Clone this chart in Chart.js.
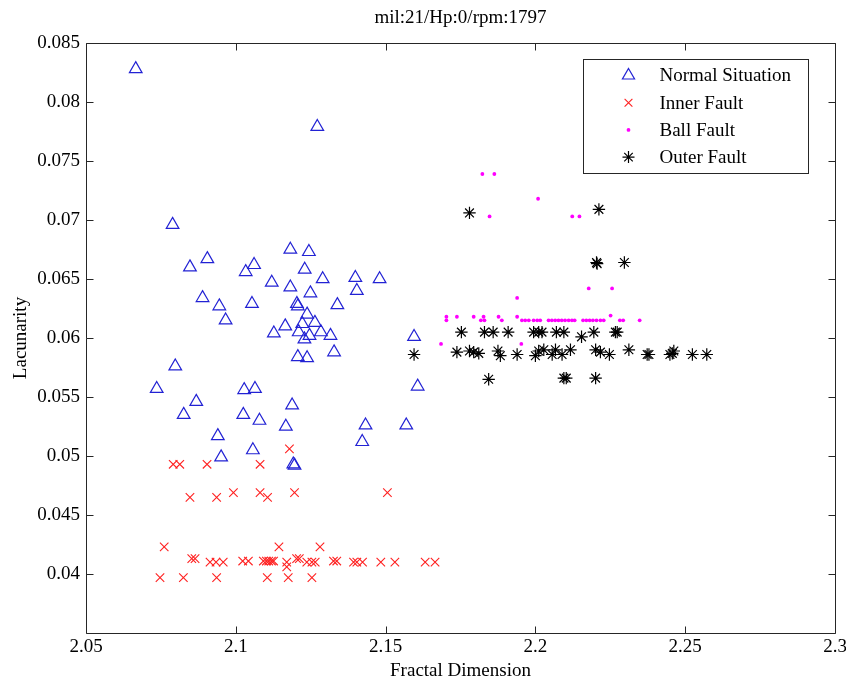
<!DOCTYPE html>
<html>
<head>
<meta charset="utf-8">
<script src="https://cdn.jsdelivr.net/npm/chart.js@4/dist/chart.umd.min.js"></script>
<style>
  html, body { margin: 0; padding: 0; background: #ffffff; }
  #wrap { width: 846px; height: 682px; }
</style>
</head>
<body>
<div id="wrap"><canvas id="c" width="846" height="682"></canvas></div>
<script>
// ---------------- data ----------------
const chartTitle = 'mil:21/Hp:0/rpm:1797';
const xAxisTitle = 'Fractal Dimension';
const yAxisTitle = 'Lacunarity';
const seriesNames = ['Normal Situation', 'Inner Fault', 'Ball Fault', 'Outer Fault'];

const xTickValues = [2.05, 2.1, 2.15, 2.2, 2.25, 2.3];
const xTickLabels = ['2.05', '2.1', '2.15', '2.2', '2.25', '2.3'];
const yTickValues = [0.04, 0.045, 0.05, 0.055, 0.06, 0.065, 0.07, 0.075, 0.08, 0.085];
const yTickLabels = ['0.04', '0.045', '0.05', '0.055', '0.06', '0.065', '0.07', '0.075', '0.08', '0.085'];
const xRange = [2.05, 2.3];
const yRange = [0.035, 0.085];

// Normal Situation
const normalFD = [2.0666, 2.1272, 2.0789, 2.0847, 2.0905, 2.0889, 2.0945, 2.0966, 2.1033, 2.1061,
  2.1054, 2.1120, 2.1182, 2.1244, 2.1230, 2.1290, 2.1182, 2.1249, 2.1204, 2.1207,
  2.1339, 2.1238, 2.1222, 2.1264, 2.1127, 2.1165, 2.1210, 2.1246, 2.1284, 2.1316,
  2.1229, 2.1207, 2.1238, 2.1328, 2.0798, 2.0736, 2.0868, 2.0826, 2.1028, 2.1064,
  2.1025, 2.1079, 2.1188, 2.1167, 2.0940, 2.0951, 2.1057, 2.1192, 2.1196, 2.1399,
  2.1480, 2.1404, 2.1595, 2.1607, 2.1433, 2.1569, 2.1422];
const normalLac = [0.0828, 0.0779, 0.0696, 0.0660, 0.0667, 0.0634, 0.0627, 0.0615, 0.0656, 0.0662,
  0.0629, 0.0647, 0.0675, 0.0673, 0.0658, 0.0650, 0.0643, 0.0638, 0.0629, 0.0627,
  0.0628, 0.0620, 0.0612, 0.0613, 0.0604, 0.0610, 0.0605, 0.0602, 0.0605, 0.0602,
  0.0599, 0.0584, 0.0583, 0.0588, 0.0576, 0.0557, 0.0546, 0.0535, 0.0556, 0.0557,
  0.0535, 0.0530, 0.0543, 0.0525, 0.0517, 0.0499, 0.0505, 0.0493, 0.0492, 0.0651,
  0.0650, 0.0640, 0.0601, 0.0559, 0.0526, 0.0526, 0.0512];

// Inner Fault
const innerFD = [2.1179,
  2.0791, 2.0813, 2.0904, 2.1081,
  2.0992, 2.1081, 2.1196, 2.1506,
  2.0847, 2.0936, 2.1106,
  2.0761, 2.1144, 2.1281,
  2.0853, 2.0864, 2.1203, 2.1212,
  2.0914, 2.0934, 2.0958, 2.1023, 2.1042, 2.1092, 2.1102, 2.1110, 2.1119, 2.1126,
  2.1170, 2.1237, 2.1254, 2.1265, 2.1326, 2.1337, 2.1393, 2.1404, 2.1423, 2.1484,
  2.1531, 2.1632, 2.1665,
  2.0747, 2.0825, 2.0936, 2.1105, 2.1175, 2.1254,
  2.1170];
const innerLac = [0.0506,
  0.0493, 0.0493, 0.0493, 0.0493,
  0.0469, 0.0469, 0.0469, 0.0469,
  0.0465, 0.0465, 0.0465,
  0.0423, 0.0423, 0.0423,
  0.0413, 0.0413, 0.0413, 0.0413,
  0.0410, 0.0410, 0.0410, 0.0411, 0.0411, 0.0411, 0.0411, 0.0411, 0.0411, 0.0411,
  0.0410, 0.0410, 0.0410, 0.0410, 0.0411, 0.0411, 0.0410, 0.0410, 0.0410, 0.0410,
  0.0410, 0.0410, 0.0410,
  0.0397, 0.0397, 0.0397, 0.0397, 0.0397, 0.0397,
  0.0406];

// Ball Fault
const ballFD = [2.1823, 2.1863, 2.2009, 2.1847, 2.2123, 2.2147, 2.2178, 2.2256, 2.1939,
  2.1703, 2.1703, 2.1738, 2.1794, 2.1818, 2.1827, 2.1830, 2.1877, 2.1888, 2.1939,
  2.1955, 2.1966, 2.1978, 2.1994, 2.2006, 2.2016, 2.2044, 2.2055, 2.2066, 2.2077,
  2.2088, 2.2099, 2.2111, 2.2122, 2.2131, 2.2159, 2.2170, 2.2181, 2.2192, 2.2204,
  2.2217, 2.2228, 2.2251, 2.2282, 2.2293, 2.2348,
  2.1685, 2.1953];
const ballLac = [0.0739, 0.0739, 0.0718, 0.0703, 0.0703, 0.0703, 0.0642, 0.0642, 0.0634,
  0.0618, 0.0615, 0.0618, 0.0618, 0.0615, 0.0618, 0.0615, 0.0618, 0.0615, 0.0618,
  0.0615, 0.0615, 0.0615, 0.0615, 0.0615, 0.0615, 0.0615, 0.0615, 0.0615, 0.0615,
  0.0615, 0.0615, 0.0615, 0.0615, 0.0615, 0.0615, 0.0615, 0.0615, 0.0615, 0.0615,
  0.0615, 0.0615, 0.0619, 0.0615, 0.0615, 0.0615,
  0.0595, 0.0595];

// Outer Fault
const outerFD = [2.1780, 2.2212, 2.2204, 2.2206, 2.2297,
  2.1753, 2.1830, 2.1859, 2.1909, 2.1994, 2.2011, 2.2022, 2.2070, 2.2095, 2.2154,
  2.2195, 2.2267, 2.2273,
  2.1738, 2.1780, 2.1794, 2.1811, 2.1875, 2.1883, 2.1939, 2.2000, 2.2011, 2.2028,
  2.2056, 2.2067, 2.2089, 2.2117, 2.2201, 2.2217, 2.2247, 2.2312, 2.2373, 2.2379,
  2.2449, 2.2457, 2.2462, 2.2524, 2.2572, 2.1595,
  2.1844, 2.2095, 2.2103, 2.2201];
const outerLac = [0.0706, 0.0709, 0.0664, 0.0663, 0.0664,
  0.0605, 0.0605, 0.0605, 0.0605, 0.0605, 0.0605, 0.0605, 0.0605, 0.0605, 0.0601,
  0.0605, 0.0605, 0.0605,
  0.0588, 0.0589, 0.0588, 0.0587, 0.0589, 0.0585, 0.0586, 0.0585, 0.0589, 0.0590,
  0.0586, 0.0590, 0.0586, 0.0590, 0.0590, 0.0588, 0.0586, 0.0590, 0.0586, 0.0586,
  0.0586, 0.0587, 0.0589, 0.0586, 0.0586, 0.0586,
  0.0565, 0.0566, 0.0566, 0.0566];

// ---------------- chart ----------------
const toPoints = (xs, ys) => xs.map((x, i) => ({ x: x, y: ys[i] }));
const FONT = "'Liberation Serif', 'Times New Roman', 'DejaVu Serif', serif";
Chart.defaults.font.family = FONT;
Chart.defaults.color = '#000000';

const AXIS_COLOR = '#262626';

const framePlugin = {
  id: 'matlabFrame',
  afterDatasetsDraw(chart) {
    const { ctx, chartArea } = chart;
    const { left, right, top, bottom } = chartArea;
    const xs = chart.scales.x, ys = chart.scales.y;
    const tl = 7;
    ctx.save();
    ctx.strokeStyle = AXIS_COLOR;
    ctx.lineWidth = 1;
    ctx.beginPath();
    const L = Math.round(left) + 0.5, R = Math.round(right) + 0.5;
    const T = Math.round(top) + 0.5, B = Math.round(bottom) + 0.5;
    ctx.rect(L, T, R - L, B - T);
    xs.ticks.forEach(t => {
      const px = Math.round(xs.getPixelForValue(t.value)) + 0.5;
      ctx.moveTo(px, B); ctx.lineTo(px, B - tl);
      ctx.moveTo(px, T); ctx.lineTo(px, T + tl);
    });
    ys.ticks.forEach(t => {
      const py = Math.round(ys.getPixelForValue(t.value)) + 0.5;
      ctx.moveTo(L, py); ctx.lineTo(L + tl, py);
      ctx.moveTo(R, py); ctx.lineTo(R - tl, py);
    });
    ctx.stroke();
    ctx.restore();
  }
};

const legendPlugin = {
  id: 'insideLegend',
  afterDraw(chart) {
    const { ctx, chartArea } = chart;
    const boxW = 225, boxH = 114;
    const bx = Math.round(chartArea.right - 27 - boxW) + 0.5;
    const by = Math.round(chartArea.top + 16) + 0.5;
    ctx.save();
    ctx.fillStyle = '#ffffff';
    ctx.fillRect(bx, by, boxW, boxH);
    ctx.strokeStyle = AXIS_COLOR;
    ctx.lineWidth = 1;
    ctx.strokeRect(bx, by, boxW, boxH);
    ctx.font = '19px ' + FONT;
    ctx.textBaseline = 'middle';
    ctx.textAlign = 'left';
    chart.data.datasets.forEach((ds, i) => {
      const cy = by + 16 + i * 27.2;
      const mx = bx + 45;
      ctx.strokeStyle = ds.pointBorderColor;
      ctx.fillStyle = ds.pointBackgroundColor;
      ctx.lineWidth = ds.pointBorderWidth;
      Chart.helpers.drawPoint(ctx, {
        pointStyle: ds.pointStyle,
        radius: ds.legendRadius,
        borderWidth: ds.pointBorderWidth,
        rotation: 0
      }, mx, cy);
      ctx.fillStyle = '#000000';
      ctx.fillText(ds.label, bx + 76, cy + 1);
    });
    ctx.restore();
  }
};

new Chart(document.getElementById('c'), {
  type: 'scatter',
  data: {
    datasets: [
      {
        label: seriesNames[0],
        data: toPoints(normalFD, normalLac),
        pointStyle: 'triangle',
        pointRadius: 7.3,
        legendRadius: 7,
        pointBorderWidth: 1.2,
        pointBorderColor: '#2222d4',
        pointBackgroundColor: 'rgba(0,0,0,0)',
        order: 4
      },
      {
        label: seriesNames[1],
        data: toPoints(innerFD, innerLac),
        pointStyle: 'crossRot',
        pointRadius: 6,
        legendRadius: 5.5,
        pointBorderWidth: 1.1,
        pointBorderColor: '#ff2020',
        pointBackgroundColor: '#ff2020',
        order: 3
      },
      {
        label: seriesNames[2],
        data: toPoints(ballFD, ballLac),
        pointStyle: 'circle',
        pointRadius: 1.9,
        legendRadius: 1.9,
        pointBorderWidth: 0,
        pointBorderColor: '#ff00ff',
        pointBackgroundColor: '#ff00ff',
        order: 2
      },
      {
        label: seriesNames[3],
        data: toPoints(outerFD, outerLac),
        pointStyle: 'star',
        pointRadius: 6.2,
        legendRadius: 6,
        pointBorderWidth: 1.2,
        pointBorderColor: '#000000',
        pointBackgroundColor: '#000000',
        order: 1
      }
    ]
  },
  options: {
    responsive: false,
    animation: false,
    devicePixelRatio: 1,
    events: [],
    layout: { padding: { left: 0, right: 11, top: 0, bottom: 0 } },
    plugins: {
      legend: { display: false },
      tooltip: { enabled: false },
      title: {
        display: true,
        text: chartTitle,
        fullSize: false,
        color: '#000000',
        font: { size: 19, weight: 'normal', family: FONT, lineHeight: 1.2 },
        padding: { top: 6.6, bottom: 13.6 }
      }
    },
    scales: {
      x: {
        type: 'linear',
        position: 'bottom',
        min: xRange[0],
        max: xRange[1],
        afterBuildTicks: s => { s.ticks = xTickValues.map(v => ({ value: v })); },
        afterFit: s => { s.height = 49; s.paddingLeft = 0; s.paddingRight = 0; },
        grid: { display: false, drawTicks: false, tickLength: 0 },
        border: { display: false },
        ticks: {
          autoSkip: false,
          maxRotation: 0,
          padding: 3,
          color: '#000000',
          font: { size: 19, family: FONT },
          callback: (v, i) => xTickLabels[i]
        },
        title: {
          display: true,
          text: xAxisTitle,
          color: '#000000',
          font: { size: 19, family: FONT, lineHeight: 1.2 },
          padding: { top: 4, bottom: 0 }
        }
      },
      y: {
        type: 'linear',
        position: 'left',
        min: yRange[0],
        max: yRange[1],
        afterBuildTicks: s => { s.ticks = yTickValues.map(v => ({ value: v })); },
        afterFit: s => { s.width = 86; s.paddingTop = 0; s.paddingBottom = 0; },
        grid: { display: false, drawTicks: false, tickLength: 0 },
        border: { display: false },
        ticks: {
          autoSkip: false,
          padding: 6,
          color: '#000000',
          font: { size: 19, family: FONT },
          callback: (v, i) => yTickLabels[i]
        },
        title: {
          display: true,
          text: yAxisTitle,
          color: '#000000',
          font: { size: 19, family: FONT, lineHeight: 1.2 },
          padding: { top: 10, bottom: 0 }
        }
      }
    }
  },
  plugins: [framePlugin, legendPlugin]
});
</script>
</body>
</html>
